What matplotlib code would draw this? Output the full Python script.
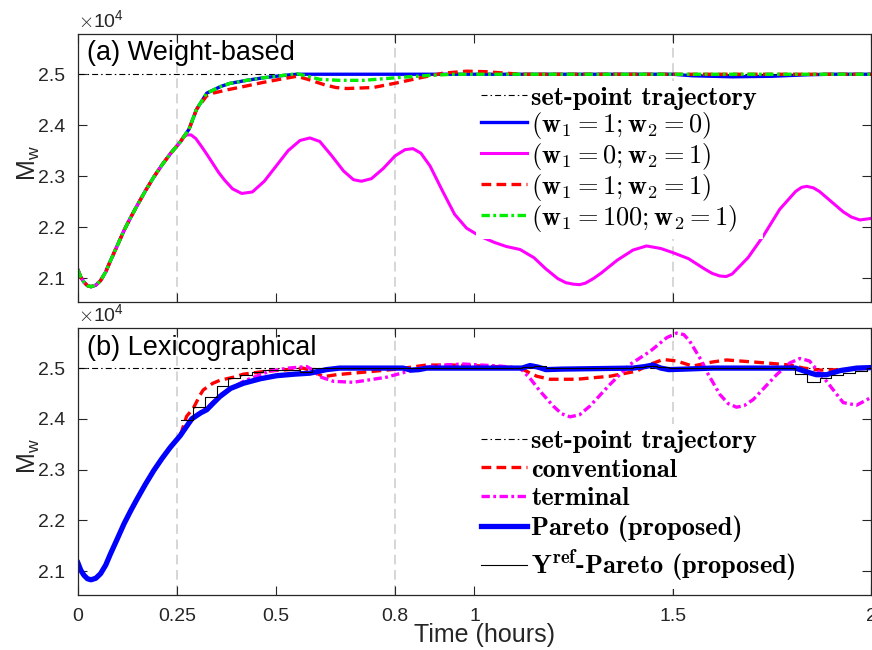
import matplotlib
matplotlib.use("Agg")
import matplotlib.pyplot as plt

plt.rcParams['font.family'] = ['Liberation Sans', 'DejaVu Sans']
plt.rcParams['mathtext.fontset'] = 'cm'
plt.rcParams['lines.scale_dashes'] = False

# =====================
# DATA  (M_w in units of 1e4, time in hours)
# =====================
# shared start-up transient (all controllers identical here)
t_start = [0, 0.007, 0.015, 0.024, 0.033, 0.045, 0.057, 0.07, 0.082, 0.1, 0.116, 0.133,
           0.149, 0.17, 0.191, 0.212, 0.233, 0.258]
mw_start = [2.116, 2.102, 2.092, 2.085, 2.083, 2.086, 2.095, 2.112, 2.134, 2.165, 2.193,
            2.219, 2.242, 2.271, 2.298, 2.322, 2.344, 2.367]

setpoint_t = [0, 2]
setpoint_mw = [2.5, 2.5]

# (a) weight-based
t_w10 = [0.28, 0.299, 0.325, 0.36, 0.383, 0.425, 0.467, 0.51, 0.552, 0.7, 1.0, 1.5,
         1.55, 1.65, 1.75, 1.84, 1.9, 2.0]
mw_w10 = [2.392, 2.431, 2.463, 2.476, 2.482, 2.488, 2.493, 2.497, 2.5, 2.5, 2.5, 2.5,
          2.497, 2.495, 2.496, 2.499, 2.5, 2.5]

t_w01 = [0.265, 0.275, 0.285, 0.297, 0.31, 0.325, 0.34, 0.355, 0.37, 0.39, 0.413, 0.44,
         0.47, 0.50, 0.53, 0.56, 0.585, 0.61, 0.64, 0.67, 0.695, 0.715, 0.74, 0.77, 0.80,
         0.825, 0.845, 0.865, 0.888, 0.92, 0.95, 0.98, 1.014, 1.05, 1.08, 1.115, 1.15,
         1.18, 1.21, 1.23, 1.249, 1.265, 1.28, 1.30, 1.32, 1.36, 1.40, 1.434, 1.47, 1.50,
         1.54, 1.58, 1.60, 1.619, 1.635, 1.65, 1.69, 1.728, 1.77, 1.81, 1.825, 1.838,
         1.855, 1.87, 1.90, 1.93, 1.95, 1.972, 2.0]
mw_w01 = [2.376, 2.381, 2.381, 2.374, 2.36, 2.343, 2.325, 2.307, 2.292, 2.275, 2.266, 2.269,
          2.29, 2.32, 2.35, 2.37, 2.375, 2.368, 2.34, 2.31, 2.293, 2.29, 2.295, 2.315, 2.34,
          2.352, 2.354, 2.345, 2.32, 2.27, 2.225, 2.198, 2.182, 2.17, 2.162, 2.156, 2.14,
          2.118, 2.099, 2.091, 2.088, 2.087, 2.09, 2.099, 2.11, 2.135, 2.155, 2.163, 2.158,
          2.15, 2.138, 2.118, 2.109, 2.104, 2.103, 2.108, 2.14, 2.182, 2.235, 2.27, 2.278,
          2.28, 2.277, 2.27, 2.25, 2.23, 2.22, 2.214, 2.217]

t_w11 = [0.28, 0.299, 0.325, 0.341, 0.38, 0.425, 0.467, 0.509, 0.552, 0.58, 0.619, 0.65,
         0.678, 0.745, 0.804, 0.863, 0.92, 0.98, 1.03, 1.08, 1.12, 2.0]
mw_w11 = [2.392, 2.431, 2.458, 2.463, 2.47, 2.477, 2.484, 2.49, 2.496, 2.49, 2.48, 2.474,
          2.472, 2.474, 2.483, 2.493, 2.502, 2.506, 2.505, 2.502, 2.5, 2.5]

t_w1001 = [0.28, 0.299, 0.325, 0.36, 0.383, 0.425, 0.467, 0.51, 0.552, 0.575, 0.61, 0.66,
           0.72, 0.80, 0.89, 0.95, 2.0]
mw_w1001 = [2.392, 2.431, 2.463, 2.476, 2.482, 2.488, 2.493, 2.497, 2.501, 2.497, 2.49,
            2.488, 2.488, 2.493, 2.498, 2.5, 2.5]

# (b) lexicographical
t_conv = [0.274, 0.291, 0.308, 0.316, 0.34, 0.358, 0.392, 0.417, 0.476, 0.53, 0.567, 0.59,
          0.619, 0.652, 0.736, 0.804, 0.879, 0.947, 1.03, 1.115, 1.157, 1.19, 1.258, 1.342,
          1.409, 1.442, 1.476, 1.51, 1.55, 1.6, 1.636, 1.737, 1.796, 1.83, 1.87, 1.93, 2.0]
mw_conv = [2.405, 2.421, 2.447, 2.457, 2.47, 2.476, 2.482, 2.488, 2.494, 2.497, 2.5, 2.495,
           2.483, 2.487, 2.493, 2.498, 2.506, 2.506, 2.504, 2.5, 2.484, 2.478, 2.478, 2.484,
           2.494, 2.507, 2.517, 2.514, 2.504, 2.512, 2.516, 2.51, 2.506, 2.5, 2.496, 2.497, 2.5]

t_term = [0.29, 0.33, 0.36, 0.42, 0.484, 0.53, 0.577, 0.595, 0.61, 0.644, 0.694, 0.778,
          0.863, 0.921, 0.972, 1.064, 1.115, 1.14, 1.165, 1.199, 1.22, 1.241, 1.265, 1.291,
          1.342, 1.392, 1.443, 1.485, 1.51, 1.528, 1.543, 1.573, 1.585, 1.619, 1.64, 1.661,
          1.68, 1.703, 1.762, 1.795, 1.821, 1.845, 1.888, 1.93, 1.964, 2.0]
mw_term = [2.40, 2.425, 2.448, 2.475, 2.494, 2.5, 2.503, 2.495, 2.483, 2.474, 2.472, 2.482,
           2.5, 2.506, 2.508, 2.504, 2.5, 2.48, 2.455, 2.425, 2.41, 2.404, 2.408, 2.425,
           2.468, 2.507, 2.533, 2.56, 2.569, 2.566, 2.553, 2.514, 2.494, 2.448, 2.43, 2.423,
           2.426, 2.438, 2.487, 2.51, 2.519, 2.514, 2.474, 2.432, 2.427, 2.442]

t_pareto = [0.287, 0.31, 0.325, 0.34, 0.358, 0.385, 0.417, 0.46, 0.501, 0.545, 0.585, 0.627,
            0.66, 0.82, 0.84, 0.86, 0.88, 1.12, 1.14, 1.16, 1.18, 1.22, 1.40, 1.43, 1.45,
            1.47, 1.49, 1.53, 1.6, 1.81, 1.84, 1.862, 1.888, 1.922, 1.964, 2.0]
mw_pareto = [2.40, 2.412, 2.418, 2.43, 2.444, 2.46, 2.47, 2.479, 2.485, 2.488, 2.49, 2.497,
             2.5, 2.5, 2.496, 2.497, 2.5, 2.5, 2.505, 2.502, 2.497, 2.498, 2.5, 2.503, 2.506,
             2.5, 2.497, 2.498, 2.5, 2.5, 2.492, 2.487, 2.487, 2.495, 2.5, 2.501]

t_yref = [0.261, 0.291, 0.320, 0.350, 0.379, 0.408, 0.438, 0.467, 0.56, 0.59, 1.12, 1.15,
          1.18, 1.40, 1.43, 1.46, 1.49, 1.808, 1.838, 1.871, 1.90, 1.93, 1.96, 1.99, 2.0]
mw_yref = [2.398, 2.424, 2.444, 2.465, 2.480, 2.487, 2.493, 2.497, 2.493, 2.5, 2.503, 2.504,
           2.5, 2.502, 2.505, 2.502, 2.5, 2.489, 2.473, 2.480, 2.486, 2.491, 2.495, 2.5, 2.5]

switch_times = [0.25, 0.8, 1.5]
xticks = [0, 0.25, 0.5, 0.8, 1, 1.5, 2]
xtick_labels = ['0', '0.25', '0.5', '0.8', '1', '1.5', '2']
yticks = [2.1, 2.2, 2.3, 2.4, 2.5]

# =====================
# STYLE
# =====================
AX_COL = '#262626'
SP = dict(color='k', lw=0.8, dashes=(4.3, 2.2, 1.1, 2.2))
DASH = (7, 3.8)
DASHDOT = (6, 2.5, 2, 2.5)
LEG_FONT = {'family': 'cmb10', 'size': 19}


def full(t, mw):
    return t_start + t, mw_start + mw


def style_axes(ax):
    ax.set_xlim(0, 2)
    ax.set_ylim(2.053, 2.579)
    ax.set_xticks(xticks)
    ax.set_yticks(yticks)
    ax.set_yticklabels([f"{v:.1f}" for v in yticks])
    ax.tick_params(direction='in', length=6.5, width=0.8, color=AX_COL,
                   labelcolor=AX_COL, labelsize=14, top=True, right=True, pad=9)
    for s in ax.spines.values():
        s.set_color(AX_COL)
        s.set_linewidth(0.9)
    for xs in switch_times:
        ax.axvline(xs, color='#cccccc', lw=1.1, dashes=(7, 4), zorder=0)
    ax.set_ylabel(r'$\mathregular{M_w}$', fontsize=18, color=AX_COL)
    ax.yaxis.set_label_coords(-0.045, 0.52)
    ax.text(0.0, 1.012, r'$\times\mathregular{10^{4}}$', transform=ax.transAxes,
            fontsize=14, color=AX_COL, va='bottom', ha='left')


def add_legend(ax, y_anchor, spacing):
    return ax.legend(loc='upper left', bbox_to_anchor=(0.502, y_anchor), prop=LEG_FONT,
                     frameon=True, fancybox=False, edgecolor='none', framealpha=1,
                     handlelength=1.75, handletextpad=0.15, labelspacing=spacing,
                     borderpad=0.2, borderaxespad=0)


fig = plt.figure(figsize=(8.72, 6.5), dpi=100)
ax1 = fig.add_axes([0.0894, 0.5354, 0.9094, 0.4123])
ax2 = fig.add_axes([0.0894, 0.0846, 0.9094, 0.4108])

# ----- (a) weight-based -----
ax1.plot(setpoint_t, setpoint_mw, label='set-point trajectory', **SP)
ax1.plot(*full(t_w10, mw_w10), color='#0000ff', lw=2.4,
         label=r'$(\mathbf{w_1 = 1; w_2 = 0})$')
ax1.plot(*full(t_w01, mw_w01), color='#ff00ff', lw=2.2,
         label=r'$(\mathbf{w_1 = 0; w_2 = 1})$')
ax1.plot(*full(t_w11, mw_w11), color='#ff0000', lw=2.4, dashes=DASH,
         label=r'$(\mathbf{w_1 = 1; w_2 = 1})$')
ax1.plot(*full(t_w1001, mw_w1001), color='#00ee00', lw=2.4, dashes=DASHDOT,
         label=r'$(\mathbf{w_1 = 100; w_2 = 1})$')
style_axes(ax1)
ax1.set_xticklabels([])
ax1.text(0.011, 0.978, '(a) Weight-based', transform=ax1.transAxes,
         fontsize=19.5, va='top', ha='left', color='k')
add_legend(ax1, 0.825, 0.0)

# ----- (b) lexicographical -----
ax2.plot(setpoint_t, setpoint_mw, label='set-point trajectory', **SP)
ax2.plot(*full(t_conv, mw_conv), color='#ff0000', lw=2.4, dashes=DASH,
         label='conventional')
ax2.plot(*full(t_term, mw_term), color='#ff00ff', lw=2.4, dashes=DASHDOT,
         label='terminal')
ax2.plot(*full(t_pareto, mw_pareto), color='#0000ff', lw=3.8,
         label='Pareto (proposed)')
ax2.plot(t_yref, mw_yref, color='k', lw=0.8, drawstyle='steps-post',
         label=r'$\mathbf{Y^{ref}}$-Pareto (proposed)')
style_axes(ax2)
ax2.set_xticklabels(xtick_labels)
ax2.set_xlabel('Time (hours)', fontsize=18, color=AX_COL)
ax2.xaxis.set_label_coords(0.513, -0.105)
ax2.text(0.011, 0.974, '(b) Lexicographical', transform=ax2.transAxes,
         fontsize=19.5, va='top', ha='left', color='k')
add_legend(ax2, 0.64, 0.2)

fig.savefig('out.png', dpi=100)
